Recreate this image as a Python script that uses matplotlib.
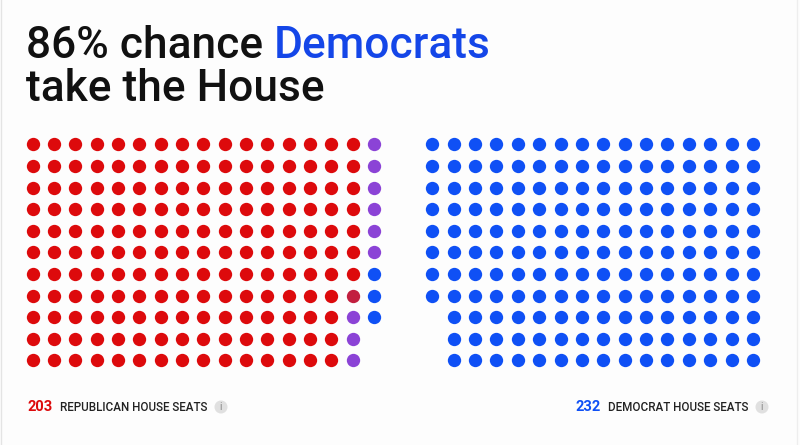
import matplotlib
matplotlib.use("Agg")
from matplotlib import pyplot as plt
from matplotlib.patches import Circle

# seat dots, filled column by column (top to bottom)
left_groups = ["rep", "rep_lean", "tossup", "dem"]
left_counts = [172, 1, 9, 3]
right_groups = ["dem"]
right_counts = [173]

rep_seats = 203
dem_seats = 232
chance = 86

colors = {
    "rep": "#dd0a0c",
    "rep_lean": "#c21f3f",
    "tossup": "#8b43d6",
    "dem": "#0f50f5",
}

ROWS = 11
LEFT_COLS = 17
RIGHT_COLS = 16


def block_positions(n, cols, x0, dx, y0, dy, from_right=False):
    """column-major positions, top to bottom"""
    pts = []
    for k in range(n):
        c, r = divmod(k, ROWS)
        if from_right:
            c = cols - 1 - c
        pts.append((x0 + c * dx, y0 + r * dy))
    return pts


fig = plt.figure(figsize=(8, 4.45), dpi=100)
fig.patch.set_facecolor("#fdfdfd")
ax = fig.add_axes([0, 0, 1, 1])
ax.set_xlim(0, 800)
ax.set_ylim(445, 0)
ax.axis("off")

dx, dy = 21.33, 21.6
y0 = 144.3

# left block
seq = []
for g, n in zip(left_groups, left_counts):
    seq += [g] * n
pts = block_positions(len(seq), LEFT_COLS, 32.7, dx, y0, dy)
for g in left_groups:
    xs = [p[0] for p, s in zip(pts, seq) if s == g]
    ys = [p[1] for p, s in zip(pts, seq) if s == g]
    ax.scatter(xs, ys, s=92, color=colors[g], linewidths=0)

# right block
seq = []
for g, n in zip(right_groups, right_counts):
    seq += [g] * n
pts = block_positions(len(seq), RIGHT_COLS, 432.3, 21.38, y0, dy, from_right=True)
ax.scatter([p[0] for p in pts], [p[1] for p in pts], s=92,
           color=colors["dem"], linewidths=0)

# title
font = "Roboto"
t1 = ax.text(26, 57.7, f"{chance}% chance ", fontsize=31.9, family=font,
             weight="medium", color="#111111", va="baseline")
fig.canvas.draw()
bb = t1.get_window_extent()
x_dem = ax.transData.inverted().transform((bb.x1, 0))[0]
ax.text(x_dem, 57.7, "Democrats", fontsize=31.9, family=font, weight="medium",
        color="#1446e8", va="baseline")
ax.text(26, 101, "take the House", fontsize=31.9, family=font, weight="medium",
        color="#111111", va="baseline")

# bottom labels
ax.text(27, 411, str(rep_seats), fontsize=10.5, family=font, weight="bold",
        color=colors["rep"], va="baseline")
ax.text(60, 411, "REPUBLICAN HOUSE SEATS", fontsize=8.4, family=font,
        weight="medium", color="#222222", va="baseline")
ax.text(576, 411, str(dem_seats), fontsize=10.5, family=font, weight="bold",
        color=colors["dem"], va="baseline")
ax.text(608, 411, "DEMOCRAT HOUSE SEATS", fontsize=8.4, family=font,
        weight="medium", color="#222222", va="baseline")
for cx in (221, 762):
    ax.add_patch(Circle((cx, 407), 6.5, color="#e0e0e0", lw=0))
    ax.text(cx, 407.5, "i", fontsize=7.5, family=font, color="#8a8a8a",
            ha="center", va="center")

# side borders
ax.plot([1, 1], [0, 445], color="#e4e4e4", lw=1)
ax.plot([797, 797], [0, 445], color="#eeeeee", lw=1)

fig.savefig("out.png", dpi=100, facecolor=fig.get_facecolor())
